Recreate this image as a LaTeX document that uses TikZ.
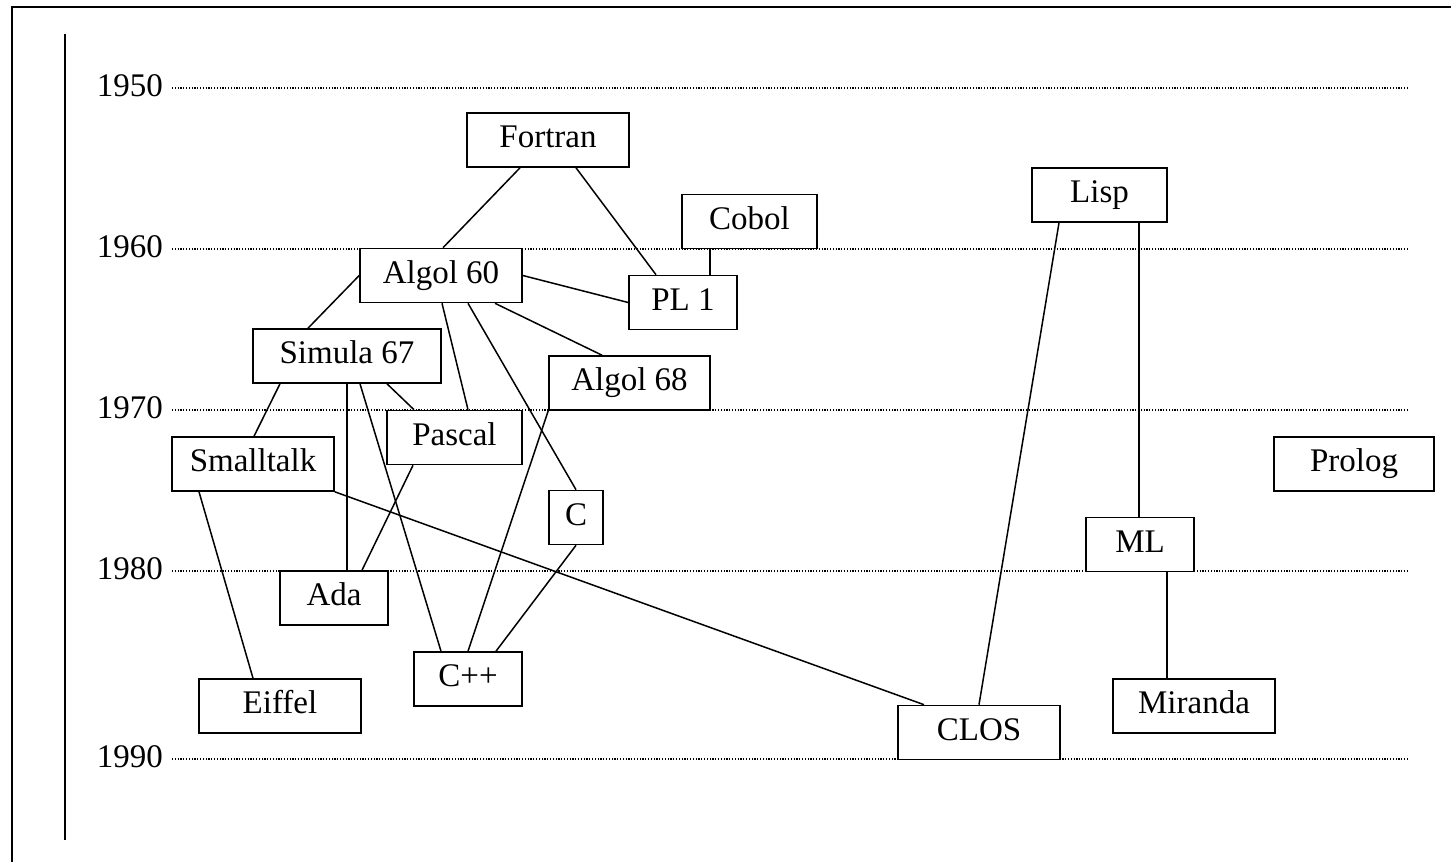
\documentclass[tikz,border=0pt]{standalone}
\usepackage{fontspec}
\setmainfont{Liberation Serif}
\begin{document}
\begin{tikzpicture}[x=1pt,y=-1pt,
  langbox/.style={draw, line width=1.6pt, fill=white, inner sep=0pt,
    minimum height=54pt, text height=22pt, text depth=7pt,
    font=\fontsize{33}{40}\selectfont},
  link/.style={line width=1.5pt},
  yearline/.style={line width=1.1pt, dash pattern=on 1.1pt off 1.7pt},
  yearlabel/.style={anchor=base east, inner sep=0pt, font=\fontsize{33}{40}\selectfont}]
\useasboundingbox (0,0) rectangle (1451,862);

% frame and time axis
\draw[line width=2pt] (12,862) -- (12,7) -- (1451,7);
\draw[line width=1.6pt] (65,34) -- (65,840);

% decades
\foreach \yr/\yy in {1950/88, 1960/249, 1970/410, 1980/571, 1990/759} {
  \node[yearlabel] (y\yr) at (163,\yy+8) {\yr};
  \draw[yearline] (172,\yy) -- (1408,\yy);
}

% languages
\node[langbox, minimum width=162pt] (fortran)   at (548,140)    {Fortran};
\node[langbox, minimum width=135pt] (cobol)     at (749.5,221.5) {Cobol};
\node[langbox, minimum width=108pt] (pl1)       at (683,302.5)  {PL 1};
\node[langbox, minimum width=162pt] (algol60)   at (441,275.5)  {Algol 60};
\node[langbox, minimum width=188pt] (simula)    at (347,356)    {Simula 67};
\node[langbox, minimum width=161pt] (algol68)   at (629.5,383)  {Algol 68};
\node[langbox, minimum width=135pt] (pascal)    at (454.5,437.5) {Pascal};
\node[langbox, minimum width=162pt] (smalltalk) at (253,464)    {Smalltalk};
\node[langbox, minimum width=54pt]  (c)         at (576,517.5)  {C};
\node[langbox, minimum width=108pt] (ada)       at (334,598)    {Ada};
\node[langbox, minimum width=108pt] (cpp)       at (468,679)    {C++};
\node[langbox, minimum width=162pt] (eiffel)    at (280,706)    {Eiffel};
\node[langbox, minimum width=135pt] (lisp)      at (1099.5,195) {Lisp};
\node[langbox, minimum width=160pt] (prolog)    at (1354,464)   {Prolog};
\node[langbox, minimum width=108pt] (ml)        at (1140,544.5) {ML};
\node[langbox, minimum width=162pt] (miranda)   at (1194,706)   {Miranda};
\node[langbox, minimum width=162pt] (clos)      at (979,732.5)  {CLOS};

% influences
\draw[link] ([xshift=-28pt]fortran.south) -- ([xshift=2pt]algol60.north);
\draw[link] ([xshift=28pt]fortran.south) -- ([xshift=-27pt]pl1.north);
\draw[link] ([xshift=-39.5pt]cobol.south) -- ([xshift=27pt]pl1.north);
\draw[link] (algol60.east) -- (pl1.west);
\draw[link] ([xshift=54pt]algol60.south) -- ([xshift=-27.5pt]algol68.north);
\draw[link] ([xshift=1pt]algol60.south) -- ([xshift=13.5pt]pascal.north);
\draw[link] ([xshift=27pt]algol60.south) -- (c.north);
\draw[link] (algol60.west) -- ([xshift=-39pt]simula.north);
\draw[link] ([xshift=-67pt]simula.south) -- ([xshift=1pt]smalltalk.north);
\draw[link] (simula.south) -- ([xshift=13pt]ada.north);
\draw[link] ([xshift=13pt]simula.south) -- ([xshift=-27pt]cpp.north);
\draw[link] ([xshift=40pt]simula.south) -- ([xshift=-40.5pt]pascal.north);
\draw[link] ([xshift=-41.5pt]pascal.south) -- ([xshift=28pt]ada.north);
\draw[link] ([xshift=-54pt]smalltalk.south) -- ([xshift=-27pt]eiffel.north);
\draw[link] (smalltalk.south east) -- ([xshift=-55pt]clos.north);
\draw[link] (algol68.south west) -- (cpp.north);
\draw[link] (c.south) -- ([xshift=28pt]cpp.north);
\draw[link] ([xshift=-40.5pt]lisp.south) -- (clos.north);
\draw[link] ([xshift=39.5pt]lisp.south) -- ([xshift=-1pt]ml.north);
\draw[link] ([xshift=27pt]ml.south) -- ([xshift=-27pt]miranda.north);
\end{tikzpicture}
\end{document}
